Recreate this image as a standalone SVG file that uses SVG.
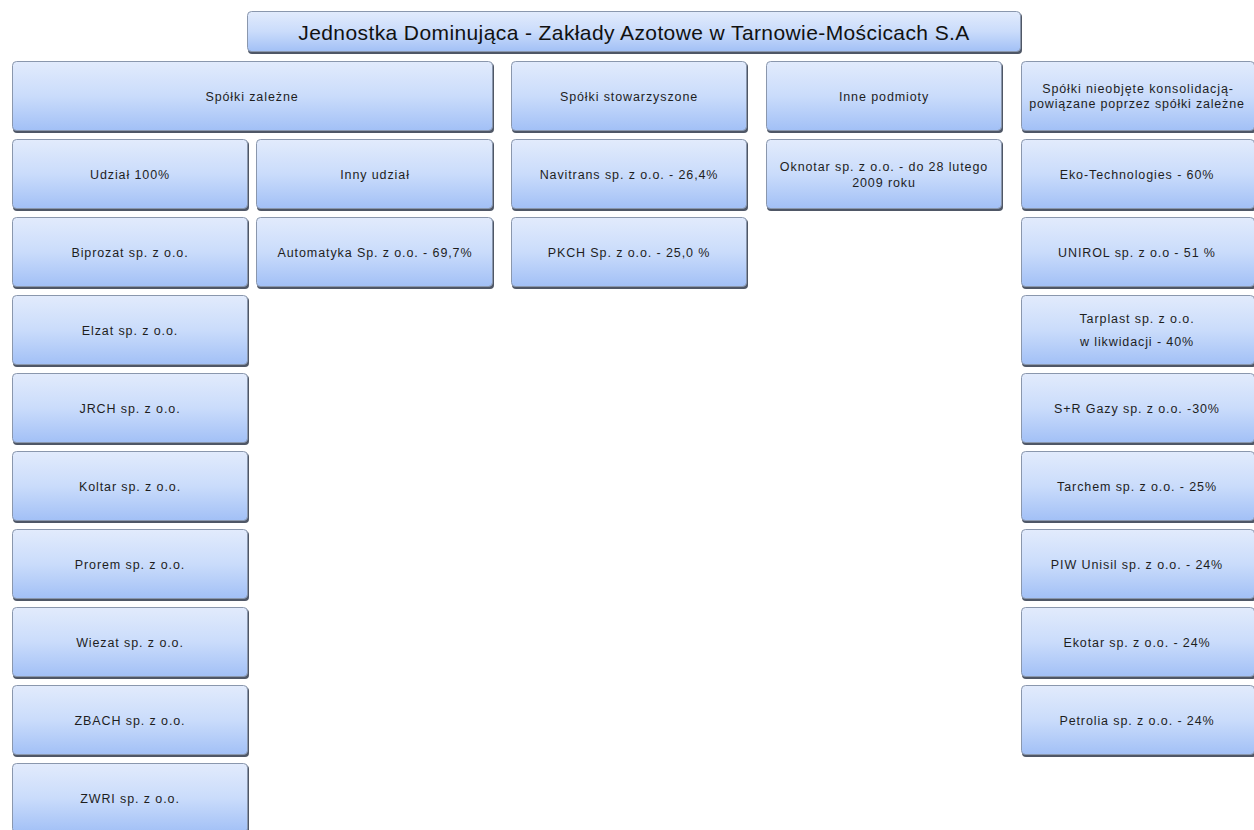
<svg xmlns="http://www.w3.org/2000/svg" width="1254" height="830" viewBox="0 0 1254 830">
<defs>
<linearGradient id="g" x1="0" y1="0" x2="0" y2="1">
<stop offset="0" stop-color="#e2ebfc"/>
<stop offset="0.5" stop-color="#cadcfb"/>
<stop offset="1" stop-color="#a2c0f6"/>
</linearGradient>
</defs>
<style>
.sh{fill:#4f5766;}
.bx{fill:url(#g);stroke:#8a97ad;stroke-width:1;}
text{font-family:"Liberation Sans",Arial,sans-serif;font-size:12.5px;letter-spacing:0.9px;fill:#1e1e1e;text-anchor:middle;dominant-baseline:central;}
.t{font-size:21px;letter-spacing:0.4px;fill:#111;}
</style>
<rect width="1254" height="830" fill="#ffffff"/>
<g id="connectors"/>
<g id="title">
<rect class="sh" x="248" y="13" width="774" height="41" rx="4"/>
<rect class="bx" x="247.5" y="11.5" width="773" height="40" rx="4"/>
<text class="t" x="634" y="32">Jednostka Dominująca - Zakłady Azotowe w Tarnowie-Mościcach S.A</text>
</g>
<g id="n-zalezne">
<rect class="sh" x="13" y="63" width="481" height="70" rx="4"/>
<rect class="bx" x="12.5" y="61.5" width="480" height="69" rx="4"/>
<text x="252" y="97">Spółki zależne</text>
</g>
<g id="n-stow">
<rect class="sh" x="512" y="63" width="236" height="70" rx="4"/>
<rect class="bx" x="511.5" y="61.5" width="235" height="69" rx="4"/>
<text x="629" y="97">Spółki stowarzyszone</text>
</g>
<g id="n-inne">
<rect class="sh" x="767" y="63" width="236" height="70" rx="4"/>
<rect class="bx" x="766.5" y="61.5" width="235" height="69" rx="4"/>
<text x="884" y="97">Inne podmioty</text>
</g>
<g id="n-nieobjete">
<rect class="sh" x="1022" y="63" width="234" height="70" rx="4"/>
<rect class="bx" x="1021.5" y="61.5" width="233" height="69" rx="4"/>
<text x="1138" y="89">Spółki nieobjęte konsolidacją-</text>
<text x="1137" y="104" style="letter-spacing:0.8px">powiązane poprzez spółki zależne</text>
</g>
<g id="n-udzial100">
<rect class="sh" x="13" y="141" width="236" height="70" rx="4"/>
<rect class="bx" x="12.5" y="139.5" width="235" height="69" rx="4"/>
<text x="130" y="175">Udział 100%</text>
</g>
<g id="n-innyudzial">
<rect class="sh" x="257" y="141" width="237" height="70" rx="4"/>
<rect class="bx" x="256.5" y="139.5" width="236" height="69" rx="4"/>
<text x="375" y="175">Inny udział</text>
</g>
<g id="n-navitrans">
<rect class="sh" x="512" y="141" width="236" height="70" rx="4"/>
<rect class="bx" x="511.5" y="139.5" width="235" height="69" rx="4"/>
<text x="629" y="175">Navitrans sp. z o.o. - 26,4%</text>
</g>
<g id="n-oknotar">
<rect class="sh" x="767" y="141" width="236" height="70" rx="4"/>
<rect class="bx" x="766.5" y="139.5" width="235" height="69" rx="4"/>
<text x="884" y="167">Oknotar sp. z o.o. - do 28 lutego</text>
<text x="884" y="183">2009 roku</text>
</g>
<g id="n-eko">
<rect class="sh" x="1022" y="141" width="234" height="70" rx="4"/>
<rect class="bx" x="1021.5" y="139.5" width="233" height="69" rx="4"/>
<text x="1137" y="175">Eko-Technologies - 60%</text>
</g>
<g id="n-biprozat">
<rect class="sh" x="13" y="219" width="236" height="70" rx="4"/>
<rect class="bx" x="12.5" y="217.5" width="235" height="69" rx="4"/>
<text x="130" y="253">Biprozat sp. z o.o.</text>
</g>
<g id="n-automatyka">
<rect class="sh" x="257" y="219" width="237" height="70" rx="4"/>
<rect class="bx" x="256.5" y="217.5" width="236" height="69" rx="4"/>
<text x="375" y="253">Automatyka Sp. z o.o. - 69,7%</text>
</g>
<g id="n-pkch">
<rect class="sh" x="512" y="219" width="236" height="70" rx="4"/>
<rect class="bx" x="511.5" y="217.5" width="235" height="69" rx="4"/>
<text x="629" y="253">PKCH Sp. z o.o. - 25,0 %</text>
</g>
<g id="n-unirol">
<rect class="sh" x="1022" y="219" width="234" height="70" rx="4"/>
<rect class="bx" x="1021.5" y="217.5" width="233" height="69" rx="4"/>
<text x="1137" y="253">UNIROL sp. z o.o - 51 %</text>
</g>
<g id="n-elzat">
<rect class="sh" x="13" y="297" width="236" height="70" rx="4"/>
<rect class="bx" x="12.5" y="295.5" width="235" height="69" rx="4"/>
<text x="130" y="331">Elzat sp. z o.o.</text>
</g>
<g id="n-tarplast">
<rect class="sh" x="1022" y="297" width="234" height="70" rx="4"/>
<rect class="bx" x="1021.5" y="295.5" width="233" height="69" rx="4"/>
<text x="1137" y="319">Tarplast sp. z o.o.</text>
<text x="1137" y="342">w likwidacji - 40%</text>
</g>
<g id="n-jrch">
<rect class="sh" x="13" y="375" width="236" height="70" rx="4"/>
<rect class="bx" x="12.5" y="373.5" width="235" height="69" rx="4"/>
<text x="130" y="409">JRCH sp. z o.o.</text>
</g>
<g id="n-srgazy">
<rect class="sh" x="1022" y="375" width="234" height="70" rx="4"/>
<rect class="bx" x="1021.5" y="373.5" width="233" height="69" rx="4"/>
<text x="1137" y="409">S+R Gazy sp. z o.o. -30%</text>
</g>
<g id="n-koltar">
<rect class="sh" x="13" y="453" width="236" height="70" rx="4"/>
<rect class="bx" x="12.5" y="451.5" width="235" height="69" rx="4"/>
<text x="130" y="487">Koltar sp. z o.o.</text>
</g>
<g id="n-tarchem">
<rect class="sh" x="1022" y="453" width="234" height="70" rx="4"/>
<rect class="bx" x="1021.5" y="451.5" width="233" height="69" rx="4"/>
<text x="1137" y="487">Tarchem sp. z o.o. - 25%</text>
</g>
<g id="n-prorem">
<rect class="sh" x="13" y="531" width="236" height="70" rx="4"/>
<rect class="bx" x="12.5" y="529.5" width="235" height="69" rx="4"/>
<text x="130" y="565">Prorem sp. z o.o.</text>
</g>
<g id="n-piw">
<rect class="sh" x="1022" y="531" width="234" height="70" rx="4"/>
<rect class="bx" x="1021.5" y="529.5" width="233" height="69" rx="4"/>
<text x="1137" y="565">PIW Unisil sp. z o.o. - 24%</text>
</g>
<g id="n-wiezat">
<rect class="sh" x="13" y="609" width="236" height="70" rx="4"/>
<rect class="bx" x="12.5" y="607.5" width="235" height="69" rx="4"/>
<text x="130" y="643">Wiezat sp. z o.o.</text>
</g>
<g id="n-ekotar">
<rect class="sh" x="1022" y="609" width="234" height="70" rx="4"/>
<rect class="bx" x="1021.5" y="607.5" width="233" height="69" rx="4"/>
<text x="1137" y="643">Ekotar sp. z o.o. - 24%</text>
</g>
<g id="n-zbach">
<rect class="sh" x="13" y="687" width="236" height="70" rx="4"/>
<rect class="bx" x="12.5" y="685.5" width="235" height="69" rx="4"/>
<text x="130" y="721">ZBACH sp. z o.o.</text>
</g>
<g id="n-petrolia">
<rect class="sh" x="1022" y="687" width="234" height="70" rx="4"/>
<rect class="bx" x="1021.5" y="685.5" width="233" height="69" rx="4"/>
<text x="1137" y="721">Petrolia sp. z o.o. - 24%</text>
</g>
<g id="n-zwri">
<rect class="sh" x="13" y="765" width="236" height="70" rx="4"/>
<rect class="bx" x="12.5" y="763.5" width="235" height="69" rx="4"/>
<text x="130" y="799">ZWRI sp. z o.o.</text>
</g>
</svg>
